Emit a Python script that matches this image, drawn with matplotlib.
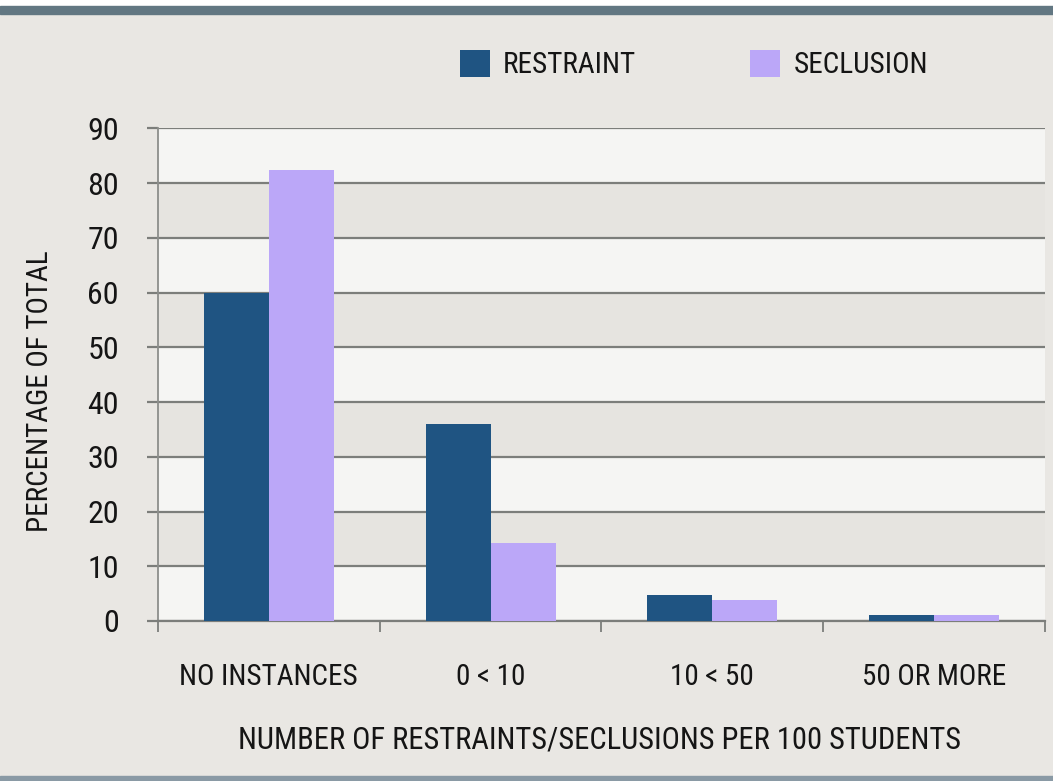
import matplotlib
matplotlib.use("Agg")
import matplotlib.pyplot as plt
import numpy as np
from matplotlib.patches import Rectangle

plt.rcParams["font.family"] = ["Roboto Condensed", "Archivo Narrow", "Liberation Sans", "DejaVu Sans"]

categories = ["NO INSTANCES", "0 < 10", "10 < 50", "50 OR MORE"]
restraint = [60, 36, 4.8, 1.1]
seclusion = [82.5, 14.2, 3.8, 1.1]
series_names = ["RESTRAINT", "SECLUSION"]
y_ticks = list(range(0, 100, 10))

BG = "#e9e7e3"
BAND = "#e6e4e0"
LIGHT = "#f5f5f3"
GRID = "#7c7e7b"
BLUE = "#1f5482"
LAVENDER = "#bba7f8"
TEXT = "#151515"
FS = 21

fig = plt.figure(figsize=(10.53, 7.81), dpi=100, facecolor=BG)
ax = fig.add_axes([0.150, 0.2049, 0.8424, 0.6306])
ax.set_facecolor(LIGHT)

# alternating bands
for lo in range(10, 90, 20):
    ax.axhspan(lo, lo + 10, color=BAND, zorder=0, lw=0)

x = np.arange(len(categories))
w = 0.293
b1 = ax.bar(x - w / 2, restraint, w, color=BLUE, zorder=3, label=series_names[0])
b2 = ax.bar(x + w / 2, seclusion, w, color=LAVENDER, zorder=3, label=series_names[1])

ax.set_xlim(-0.5, len(categories) - 0.5)
ax.set_ylim(0, 90)
ax.set_yticks(y_ticks)
ax.yaxis.grid(True, color=GRID, lw=1.6, zorder=1)
ax.set_axisbelow(True)

ax.set_xticks(np.arange(len(categories) + 1) - 0.5)
ax.set_xticklabels([])
ax.set_xticks(x, minor=True)
ax.set_xticklabels(categories, minor=True, fontsize=FS, color=TEXT)
ax.tick_params(axis="x", which="major", length=8, width=1.3, color=GRID, direction="out")
ax.tick_params(axis="x", which="minor", length=0, pad=30)
ax.tick_params(axis="y", length=8, width=1.6, color=GRID, pad=20, labelsize=23, labelcolor=TEXT)

for s in ["top", "right"]:
    ax.spines[s].set_visible(False)
ax.spines["left"].set_color("#8c8e8b")
ax.spines["left"].set_linewidth(1.3)
ax.spines["bottom"].set_color(GRID)
ax.spines["bottom"].set_linewidth(1.6)

fig.text(40 / 1053, 1 - 391 / 781, "PERCENTAGE OF TOTAL", rotation=90,
         ha="center", va="center", fontsize=FS, color=TEXT)
fig.text(600 / 1053, 1 - 740 / 781, "NUMBER OF RESTRAINTS/SECLUSIONS PER 100 STUDENTS",
         ha="center", va="center", fontsize=22, color=TEXT)

fig.legend(handles=[b1, b2], loc="center", bbox_to_anchor=(0.659, 0.917), ncol=2,
           frameon=False, fontsize=FS, handlelength=1.03, handleheight=1.03,
           handletextpad=0.45, columnspacing=3.9, labelcolor=TEXT)

# frame strips at top and bottom
fig.patches.append(Rectangle((0, 1 - 6 / 781), 1, 6 / 781, transform=fig.transFigure,
                             color="white", zorder=0))
fig.patches.append(Rectangle((0, 1 - 14 / 781), 1, 8 / 781, transform=fig.transFigure,
                             color="#627782", zorder=0))
fig.patches.append(Rectangle((0, 0), 1, 5 / 781, transform=fig.transFigure,
                             color="#8a9aa5", zorder=0))

fig.savefig("out.png", dpi=100, facecolor=BG)
